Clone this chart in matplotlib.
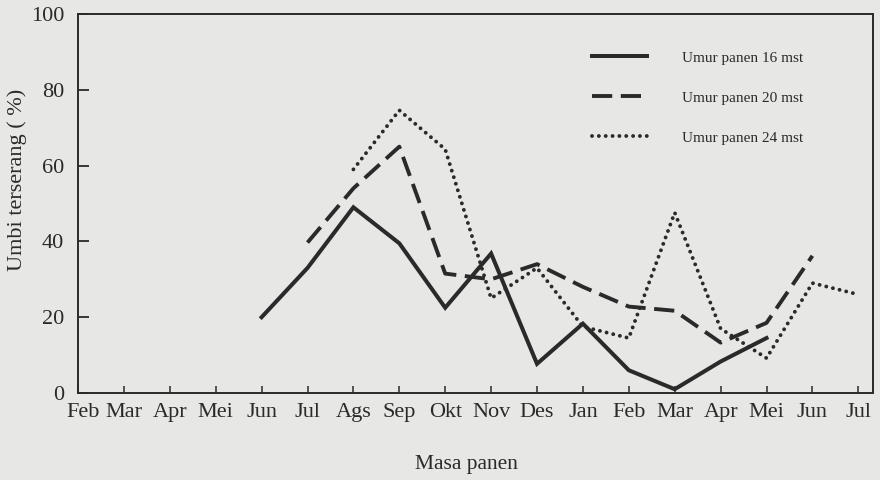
import numpy as np
import matplotlib
matplotlib.use("Agg")
import matplotlib.pyplot as plt
from matplotlib.transforms import ScaledTranslation

months = ["Feb", "Mar", "Apr", "Mei", "Jun", "Jul", "Ags", "Sep", "Okt",
          "Nov", "Des", "Jan", "Feb", "Mar", "Apr", "Mei", "Jun", "Jul"]

# Umur panen 16 mst : Jun .. Mei
x16 = [4, 5, 6, 7, 8, 9, 10, 11, 12, 13, 14, 15]
y16 = [20, 33, 49, 39.5, 22.5, 36.8, 7.7, 18.3, 6, 1, 8.3, 14.5]

# Umur panen 20 mst : Jul .. Jun
x20 = [5, 6, 7, 8, 9, 10, 11, 12, 13, 14, 15, 16]
y20 = [39.7, 54, 65, 31.5, 30, 34, 28, 22.8, 21.7, 13.3, 18.5, 36.2]

# Umur panen 24 mst : Ags .. Jul
x24 = [6, 7, 8, 9, 10, 11, 12, 13, 14, 15, 16, 17]
y24 = [59, 74.6, 64.3, 25, 33, 17.5, 14.5, 47.6, 17, 9.2, 29, 26]

labels = ["Umur panen 16 mst", "Umur panen 20 mst", "Umur panen 24 mst"]
yticks = [0, 20, 40, 60, 80, 100]

bg = "#e7e7e5"
ink = "#2a2a2a"

plt.rcParams["font.family"] = ["Liberation Serif", "DejaVu Serif"]

fig = plt.figure(figsize=(8.8, 4.8), dpi=100, facecolor=bg)
ax = fig.add_axes([78 / 880, 1 - 393 / 480, 795 / 880, 379 / 480])
ax.set_facecolor(bg)

ax.plot(x16, y16, color=ink, lw=2.9, solid_joinstyle="miter", label=labels[0])
ax.plot(x20, y20, color=ink, lw=2.8, linestyle=(0, (5.2, 2.2)),
        dash_capstyle="butt", label=labels[1])
ax.plot(x24, y24, color=ink, lw=2.8, linestyle=(0, (0.01, 1.75)),
        dash_capstyle="round", label=labels[2])

ax.set_xlim(0, 17.32)
ax.set_ylim(0, 100)
ax.set_xticks(range(len(months)))
ax.set_xticklabels(months)
ax.set_yticks(yticks)

for s in ax.spines.values():
    s.set_color(ink)
    s.set_linewidth(1.4)

ax.tick_params(axis="x", direction="in", length=5, width=1.1, colors=ink,
               labelsize=16, pad=7)
ax.tick_params(axis="y", direction="in", length=8, width=1.3, colors=ink,
               labelsize=16, pad=10)

# first month label sits a little right of the corner, as in the reference
first = ax.xaxis.get_major_ticks()[0].label1
first.set_transform(first.get_transform() +
                    ScaledTranslation(3.6 / 72, 0, fig.dpi_scale_trans))

ax.set_ylabel("Umbi terserang ( %)", fontsize=16, color=ink)
ax.yaxis.set_label_coords(-0.064, 0.562)
ax.set_xlabel("Masa panen", fontsize=15.5, color=ink)
ax.xaxis.set_label_coords(0.489, -0.164)

leg = ax.legend(loc="upper left", bbox_to_anchor=(0.6465, 0.902), frameon=False,
                fontsize=11, handlelength=3.6, handletextpad=2.3,
                labelspacing=1.72, borderaxespad=0, borderpad=0)
for t in leg.get_texts():
    t.set_color(ink)

fig.savefig("out.png", dpi=100, facecolor=bg)
